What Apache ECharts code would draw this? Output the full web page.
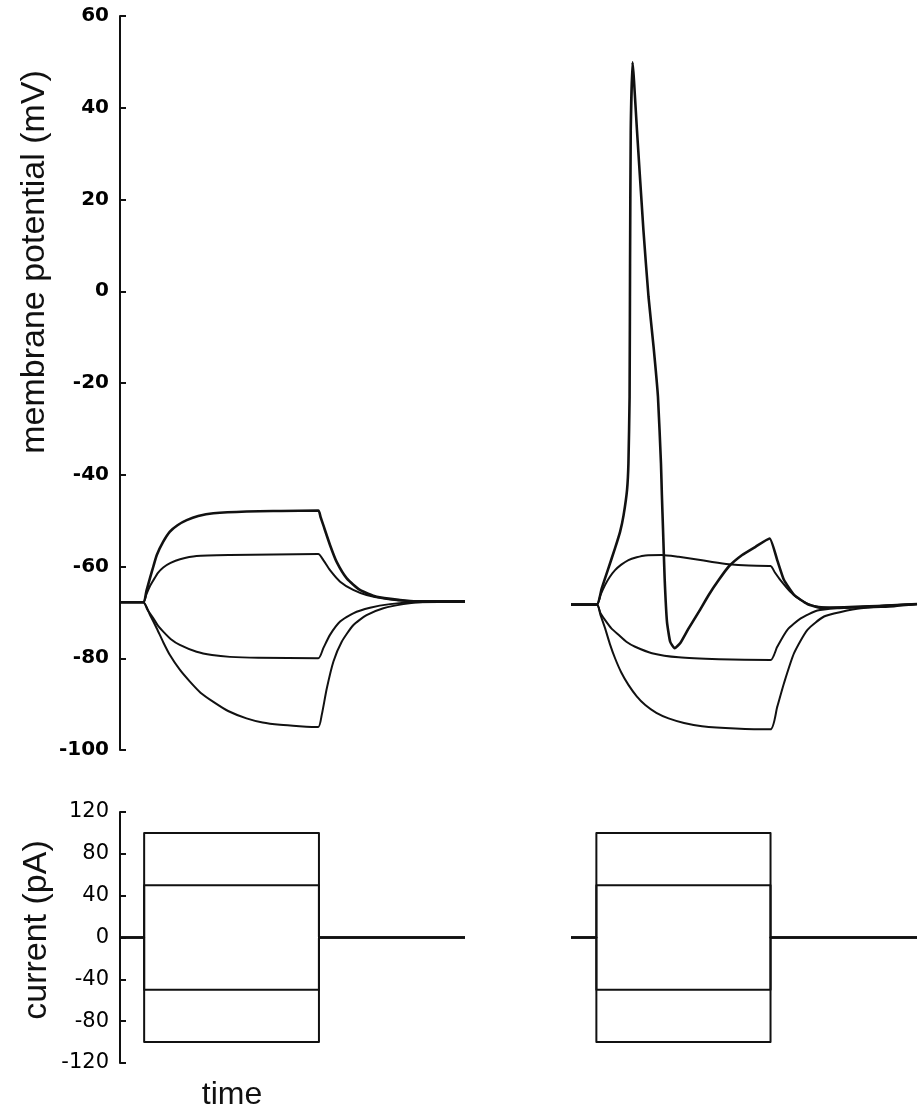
<!DOCTYPE html>
<html>
<head>
<meta charset="utf-8">
<script src="https://cdn.jsdelivr.net/npm/echarts/dist/echarts.min.js"></script>
<style>
html, body { margin: 0; padding: 0; background: #fff; }
#main { width: 920px; height: 1108px; }
</style>
</head>
<body>
<div id="main"></div>
<script>
// membrane potential traces, [time ms, mV]; left = cell A, right = cell B
var vLeftP100 = [[0,-67.8],[10.1,-67.8],[11.5,-65.3],[13,-62.6],[14.5,-60.0],[16,-57.5],[18.8,-54.6],[21.7,-52.4],[25,-51.0],[29,-49.9],[34,-49.0],[40.6,-48.4],[55,-48.0],[70,-47.9],[86.2,-47.8],[87.2,-49.2],[88.4,-51.0],[91.3,-55.3],[94.2,-59.0],[98.6,-62.6],[104.3,-65.1],[111.6,-66.6],[121.7,-67.3],[129,-67.6],[150,-67.6]];
var vLeftP50 = [[0,-67.8],[10.1,-67.8],[11.5,-66.0],[13,-64.3],[14.5,-63.0],[16.5,-61.4],[18.8,-60.2],[22,-59.2],[26.1,-58.4],[33.3,-57.7],[47.8,-57.5],[86.2,-57.3],[88.4,-58.6],[91.3,-60.8],[95.7,-63.3],[101.4,-65.1],[107.2,-66.2],[115.9,-67.1],[126,-67.6],[150,-67.7]];
var vLeftM50 = [[0,-67.8],[10.1,-67.8],[12,-69.5],[14.5,-71.3],[16.5,-72.9],[18.8,-74.2],[22,-75.8],[26,-77.1],[33.3,-78.6],[40,-79.3],[47.8,-79.7],[60,-79.9],[86.2,-80.0],[88.4,-77.8],[91.3,-74.9],[95.7,-72.0],[101.4,-70.2],[108.7,-69.0],[117.4,-68.2],[127.5,-67.8],[150,-67.7]];
var vLeftM100 = [[0,-67.8],[10.1,-67.8],[13,-70.5],[16,-73.5],[18.8,-76.5],[21.7,-79.3],[26,-82.5],[30.4,-85.1],[35,-87.5],[40.6,-89.5],[47,-91.5],[55,-93.1],[62,-94.0],[69.6,-94.5],[78,-94.8],[86.2,-95.0],[87.7,-92.4],[89.9,-86.6],[92.8,-80.7],[96.4,-76.4],[101.4,-72.8],[107.2,-70.6],[114.5,-69.1],[123.2,-68.2],[133.3,-67.7],[150,-67.6]];

var vRightSpike = [[0,-68.3],[11.2,-68.3],[13.3,-64.8],[16.2,-60.4],[19.1,-56.0],[21.3,-52.4],[22.8,-48.8],[24.3,-43.3],[24.9,-37.5],[25.4,-23],[25.6,6],[25.9,35],[26.7,49.9],[27.3,46],[28.6,35.1],[31.4,13.3],[33.6,-1.2],[35.8,-12.1],[37.7,-23],[39.0,-37.5],[39.4,-44.4],[39.9,-52],[40.6,-62.6],[41.6,-72],[43,-76.4],[44.9,-77.8],[47.4,-76.7],[51.0,-73.5],[55.4,-69.9],[59.7,-66.2],[64.1,-62.9],[68.4,-60.0],[74.2,-57.5],[80.0,-55.7],[86.1,-53.9],[89.4,-58.6],[92.3,-62.9],[96.7,-66.2],[102.5,-68.2],[108.3,-69.0],[118.4,-68.9],[132.9,-68.6],[150,-68.2]];
var vRightP50 = [[0,-68.3],[11.2,-68.3],[12.8,-66.2],[14.8,-64.0],[16.8,-62.3],[19.1,-60.8],[21.8,-59.6],[24.9,-58.6],[28.5,-58.0],[32.2,-57.6],[39.4,-57.5],[46.7,-57.9],[53.9,-58.4],[61.2,-59.0],[68.4,-59.5],[77.1,-59.8],[86.5,-59.9],[88.4,-61.3],[90.7,-62.9],[95.1,-65.5],[99.6,-67.3],[105.4,-68.6],[115,-69.0],[130,-68.7],[150,-68.2]];
var vRightM50 = [[0,-68.3],[11.2,-68.3],[12.8,-70.2],[14.8,-71.7],[17.5,-73.5],[20.6,-74.9],[24,-76.4],[27.8,-77.5],[35.1,-78.9],[46.7,-79.8],[64.1,-80.2],[86.5,-80.4],[89.4,-77.5],[93.8,-73.8],[99.6,-71.3],[106.8,-69.6],[115.5,-69.1],[130,-68.7],[150,-68.2]];
var vRightM100 = [[0,-68.3],[11.2,-68.3],[12.8,-70.6],[14.8,-73.5],[16.8,-76.8],[19.1,-80.0],[21.8,-83.1],[24.9,-85.8],[28.5,-88.3],[32.2,-90.2],[37,-91.9],[42.3,-93.1],[49,-94.1],[56.8,-94.8],[71.3,-95.3],[86.5,-95.5],[89.4,-90.6],[92.3,-85.5],[96.7,-78.9],[102.5,-73.8],[109.7,-70.9],[117,-69.9],[125.7,-69.1],[140,-68.7],[150,-68.2]];

// injected current steps (pA) and their timing (ms)
var currentSteps = [100, 50, -50, -100];
var leftStep = [10.5, 86.5];
var rightStep = [11.0, 86.5];
var sweepEnd = 150;

// axis ranges / ticks
var vTicks = { min: -100, max: 60, interval: 20 };
var iTicks = { min: -120, max: 120, interval: 40 };

var ink = '#111';

function trace(data, idx, w, smooth) {
    return {
        type: 'line',
        data: data,
        xAxisIndex: idx,
        yAxisIndex: idx,
        showSymbol: false,
        symbol: 'none',
        silent: true,
        clip: false,
        smooth: smooth || false,
        lineStyle: { color: ink, width: w, join: 'round' }
    };
}

function stepData(I, on, off) {
    return [[0, 0], [on, 0], [on, I], [off, I], [off, 0], [sweepEnd, 0]];
}

var series = [
    trace(vLeftM100, 0, 2, 0.2), trace(vLeftM50, 0, 2, 0.2), trace(vLeftP50, 0, 2, 0.2), trace(vLeftP100, 0, 2.6, 0.2),
    trace(vRightM100, 1, 2, 0.2), trace(vRightM50, 1, 2, 0.2), trace(vRightP50, 1, 2, 0.2), trace(vRightSpike, 1, 2.6, 0.15)
];
currentSteps.forEach(function (I) {
    series.push(trace(stepData(I, leftStep[0], leftStep[1]), 2, 2));
    series.push(trace(stepData(I, rightStep[0], rightStep[1]), 3, 2));
});

function shownY(grid, range, labelFont) {
    return {
        type: 'value',
        gridIndex: grid,
        min: range.min,
        max: range.max,
        interval: range.interval,
        axisLine: { show: true, lineStyle: { color: ink, width: 2 } },
        axisTick: { show: true, inside: true, length: 6, lineStyle: { color: ink, width: 2 } },
        axisLabel: labelFont,
        splitLine: { show: false }
    };
}
function hiddenY(grid, range) {
    return { type: 'value', gridIndex: grid, min: range.min, max: range.max, show: false, splitLine: { show: false } };
}
function hiddenX(grid) {
    return { type: 'value', gridIndex: grid, min: 0, max: sweepEnd, show: false, splitLine: { show: false } };
}

var myChart = echarts.init(document.getElementById('main'));
var option = {
    animation: false,
    backgroundColor: '#fff',
    grid: [
        { left: 120, top: 16, width: 345, height: 734 },
        { left: 571, top: 16, width: 346, height: 734 },
        { left: 120, top: 812, width: 345, height: 251 },
        { left: 571, top: 812, width: 346, height: 251 }
    ],
    xAxis: [hiddenX(0), hiddenX(1), hiddenX(2), hiddenX(3)],
    yAxis: [
        shownY(0, vTicks, { color: '#000', fontFamily: 'DejaVu Sans', fontWeight: 'bold', fontSize: 20, margin: 11 }),
        hiddenY(1, vTicks),
        shownY(2, iTicks, { color: '#000', fontFamily: 'DejaVu Sans', fontSize: 21, margin: 11 }),
        hiddenY(3, iTicks)
    ],
    graphic: [
        {
            type: 'text', x: 35, y: 262, rotation: Math.PI / 2,
            style: { text: 'membrane potential (mV)', fill: ink, font: '34px "Liberation Sans", Arial, sans-serif',
                     textAlign: 'center', textVerticalAlign: 'middle', align: 'center', verticalAlign: 'middle' }
        },
        {
            type: 'text', x: 37, y: 930, rotation: Math.PI / 2,
            style: { text: 'current (pA)', fill: ink, font: '34px "Liberation Sans", Arial, sans-serif',
                     textAlign: 'center', textVerticalAlign: 'middle', align: 'center', verticalAlign: 'middle' }
        },
        {
            type: 'text', x: 232, y: 1095,
            style: { text: 'time', fill: ink, font: '32px "Liberation Sans", Arial, sans-serif',
                     textAlign: 'center', textVerticalAlign: 'middle', align: 'center', verticalAlign: 'middle' }
        }
    ],
    series: series
};
myChart.setOption(option);
</script>
</body>
</html>
